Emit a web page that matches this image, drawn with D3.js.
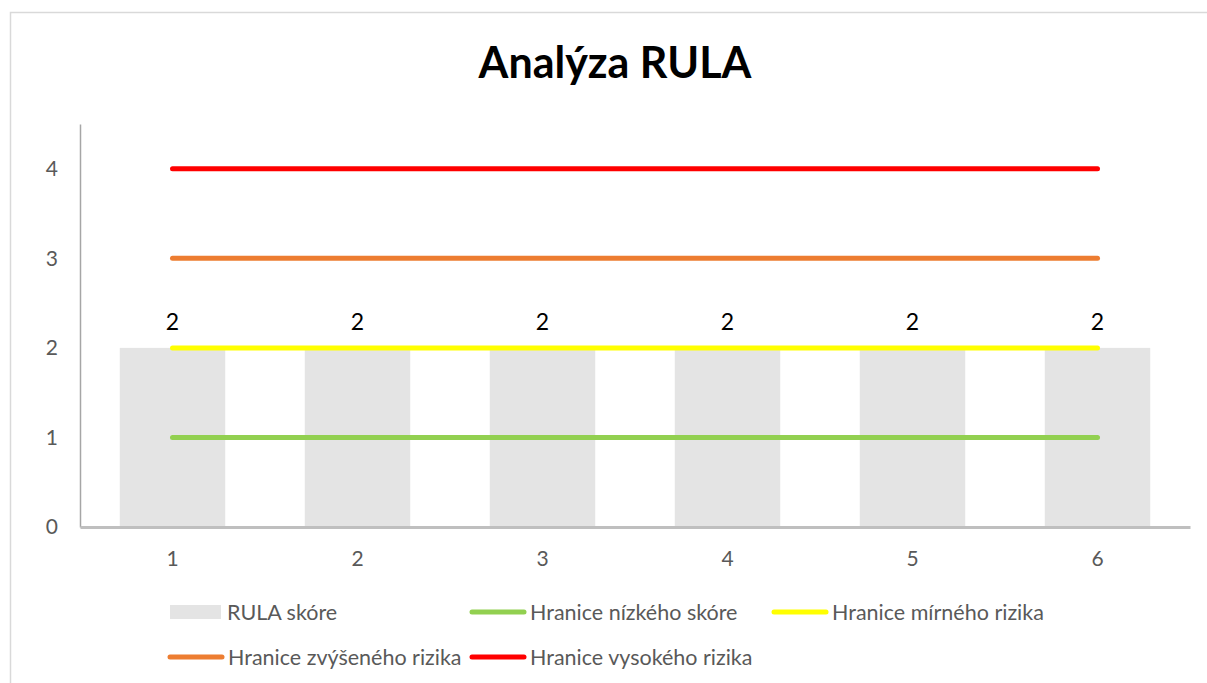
<!DOCTYPE html>
<html>
<head>
<meta charset="utf-8">
<script src="https://cdn.jsdelivr.net/npm/d3@7"></script>
<style>
  body { margin: 0; background: #fff; }
  svg { display: block; font-family: Lato, "Open Sans", sans-serif; }
</style>
</head>
<body>
<div id="chart"></div>
<script>
const categories = [1, 2, 3, 4, 5, 6];
const rulaScores = [2, 2, 2, 2, 2, 2];
const lowLimit = [1, 1, 1, 1, 1, 1];
const moderateLimit = [2, 2, 2, 2, 2, 2];
const raisedLimit = [3, 3, 3, 3, 3, 3];
const highLimit = [4, 4, 4, 4, 4, 4];
const yTicks = [0, 1, 2, 3, 4];

const lineSeries = [
  { name: "Hranice nízkého skóre", values: lowLimit, color: "#92D050" },
  { name: "Hranice mírného rizika", values: moderateLimit, color: "#FFFF00" },
  { name: "Hranice zvýšeného rizika", values: raisedLimit, color: "#ED7D31" },
  { name: "Hranice vysokého rizika", values: highLimit, color: "#FF0000" }
];

const width = 1207, height = 683;
const margin = { top: 124, right: 17, bottom: 156, left: 80 };
const plotW = width - margin.left - margin.right;
const plotH = height - margin.top - margin.bottom;

const svg = d3.select("#chart").append("svg")
  .attr("width", width)
  .attr("height", height);

// chart frame
svg.append("rect")
  .attr("x", 10.5).attr("y", 12.5)
  .attr("width", width + 10).attr("height", height + 10)
  .attr("fill", "#fff")
  .attr("stroke", "#D9D9D9")
  .attr("stroke-width", 1.5);

svg.append("text")
  .attr("x", 615).attr("y", 78)
  .attr("text-anchor", "middle")
  .attr("font-size", 43)
  .attr("font-weight", "bold")
  .attr("fill", "#000")
  .text("Analýza RULA");

const g = svg.append("g")
  .attr("transform", `translate(${margin.left},${margin.top})`);

const x = d3.scaleBand()
  .domain(categories)
  .range([0, plotW])
  .paddingInner(0.43)
  .paddingOuter(0.215);

const xPoint = c => x(c) + x.bandwidth() / 2;

const y = d3.scaleLinear()
  .domain([0, 4.5])
  .range([plotH, 0]);

// bars
g.selectAll(".bar")
  .data(categories)
  .enter()
  .append("rect")
  .attr("class", "bar")
  .attr("x", c => x(c))
  .attr("y", (c, i) => y(rulaScores[i]))
  .attr("width", x.bandwidth())
  .attr("height", (c, i) => plotH - y(rulaScores[i]))
  .attr("fill", "#E4E4E4");

// axes
const yAxis = g.append("g")
  .call(d3.axisLeft(y).tickValues(yTicks).tickFormat(d3.format("d")).tickSize(0).tickPadding(22));
yAxis.select(".domain").attr("stroke", "#A6A6A6").attr("stroke-width", 1.5);
yAxis.selectAll("text").attr("font-size", 21).attr("fill", "#595959")
  .attr("font-family", "Lato, sans-serif");

const xAxis = g.append("g")
  .attr("transform", `translate(0,${plotH})`)
  .call(d3.axisBottom(x).tickSize(0).tickPadding(24));
xAxis.select(".domain").attr("stroke", "#BFBFBF").attr("stroke-width", 3);
xAxis.selectAll("text").attr("font-size", 21).attr("fill", "#595959")
  .attr("font-family", "Lato, sans-serif");

// limit lines
const line = d3.line()
  .x((v, i) => xPoint(categories[i]))
  .y(v => y(v));

g.selectAll(".limit")
  .data(lineSeries)
  .enter()
  .append("path")
  .attr("class", "limit")
  .attr("d", d => line(d.values))
  .attr("fill", "none")
  .attr("stroke", d => d.color)
  .attr("stroke-width", 5)
  .attr("stroke-linecap", "round");

// data labels
g.selectAll(".lbl")
  .data(categories)
  .enter()
  .append("text")
  .attr("class", "lbl")
  .attr("x", c => xPoint(c))
  .attr("y", (c, i) => y(rulaScores[i]) - 18)
  .attr("text-anchor", "middle")
  .attr("font-size", 23)
  .attr("fill", "#000")
  .text((c, i) => rulaScores[i]);

// legend
const legendItems = [
  { name: "RULA skóre", type: "bar", color: "#E4E4E4", x: 170, y: 612 },
  { name: lineSeries[0].name, type: "line", color: lineSeries[0].color, x: 472, y: 612 },
  { name: lineSeries[1].name, type: "line", color: lineSeries[1].color, x: 774, y: 612 },
  { name: lineSeries[2].name, type: "line", color: lineSeries[2].color, x: 170, y: 657 },
  { name: lineSeries[3].name, type: "line", color: lineSeries[3].color, x: 472, y: 657 }
];

const leg = svg.selectAll(".leg")
  .data(legendItems)
  .enter()
  .append("g")
  .attr("class", "leg")
  .attr("transform", d => `translate(${d.x},${d.y})`);

leg.filter(d => d.type === "bar").append("rect")
  .attr("x", 0).attr("y", -7)
  .attr("width", 51).attr("height", 14)
  .attr("fill", d => d.color);

leg.filter(d => d.type === "line").append("line")
  .attr("x1", 0).attr("x2", 52)
  .attr("y1", 0).attr("y2", 0)
  .attr("stroke", d => d.color)
  .attr("stroke-width", 5)
  .attr("stroke-linecap", "round");

leg.append("text")
  .attr("x", d => d.type === "bar" ? 57 : 58)
  .attr("y", 0)
  .attr("dy", "0.35em")
  .attr("font-size", 21.5)
  .attr("fill", "#595959")
  .text(d => d.name);
</script>
</body>
</html>
